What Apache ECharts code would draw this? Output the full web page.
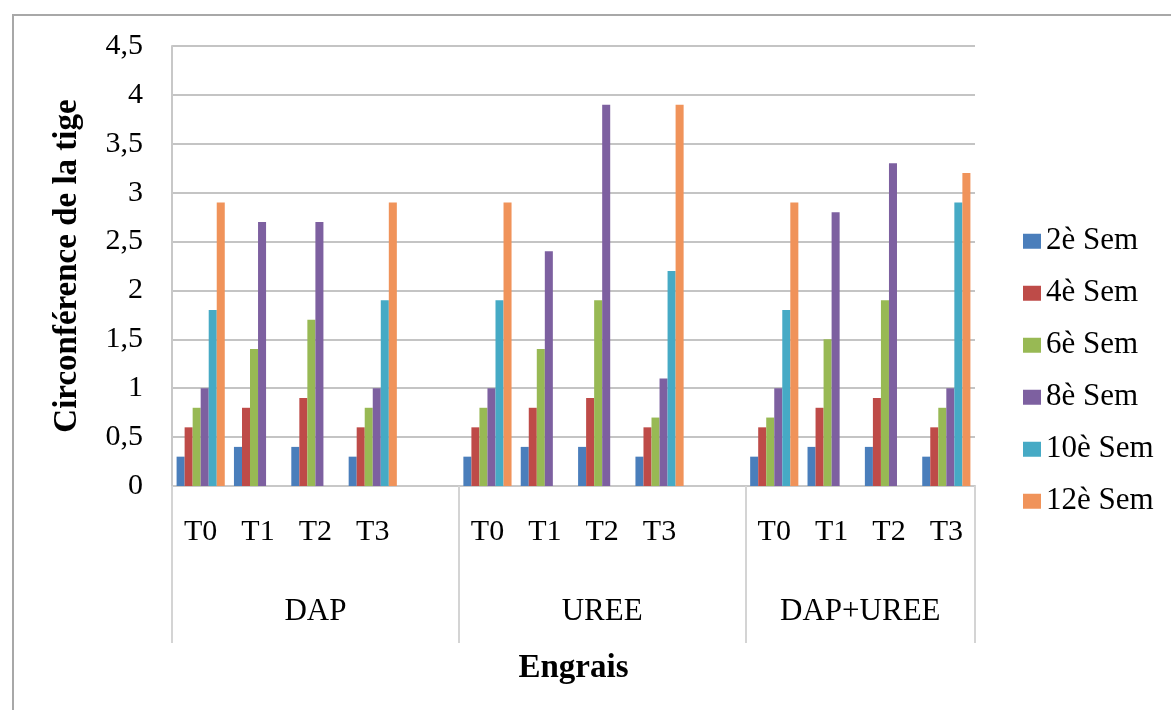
<!DOCTYPE html>
<html>
<head>
<meta charset="utf-8">
<script src="https://cdn.jsdelivr.net/npm/echarts@6/dist/echarts.min.js"></script>
<style>
html,body{margin:0;padding:0;background:#fff;}
#chart{width:1171px;height:710px;}
</style>
</head>
<body>
<div id="chart"></div>
<script>
// Categories (blank entries are the empty slots between fertiliser groups)
const categories = ['T0','T1','T2','T3','','T0','T1','T2','T3','','T0','T1','T2','T3'];
const groupNames = ['DAP','UREE','DAP+UREE'];
const groupCenters = [2.5, 7.5, 12];
const groupBounds = [0, 5, 10, 14];
const seriesNames = ['2è Sem','4è Sem','6è Sem','8è Sem','10è Sem','12è Sem'];

const sem2  = [0.3,0.4,0.4,0.3,null,0.3,0.4,0.4,0.3,null,0.3,0.4,0.4,0.3];
const sem4  = [0.6,0.8,0.9,0.6,null,0.6,0.8,0.9,0.6,null,0.6,0.8,0.9,0.6];
const sem6  = [0.8,1.4,1.7,0.8,null,0.8,1.4,1.9,0.7,null,0.7,1.5,1.9,0.8];
const sem8  = [1.0,2.7,2.7,1.0,null,1.0,2.4,3.9,1.1,null,1.0,2.8,3.3,1.0];
const sem10 = [1.8,null,null,1.9,null,1.9,null,null,2.2,null,1.8,null,null,2.9];
const sem12 = [2.9,null,null,2.9,null,2.9,null,null,3.9,null,2.9,null,null,3.2];

const colors = ['#4A7EBB','#BE4B48','#98B954','#7D60A0','#46AAC5','#F0935A'];
const serif = '"Liberation Serif","DejaVu Serif",serif';
const allData = [sem2, sem4, sem6, sem8, sem10, sem12];

const chart = echarts.init(document.getElementById('chart'));
chart.setOption({
  animation: false,
  backgroundColor: '#fff',
  color: colors,
  textStyle: { fontFamily: serif },
  graphic: [{
    type: 'polyline',
    shape: { points: [[13, 720], [13, 15], [1171, 15]] },
    style: { stroke: '#a8a8a8', lineWidth: 2, fill: null },
    silent: true
  }],
  grid: { left: 172, right: 196, top: 46, bottom: 224, containLabel: false },
  legend: {
    orient: 'vertical',
    left: 1023,
    top: 225,
    padding: 0,
    itemWidth: 18,
    itemHeight: 15,
    itemGap: 19.5,
    icon: 'rect',
    data: seriesNames,
    textStyle: { fontFamily: serif, fontSize: 31, color: '#000', lineHeight: 32.5 }
  },
  xAxis: [{
    type: 'category',
    data: categories,
    axisLine: { show: true, lineStyle: { color: '#c8c8c8', width: 2 } },
    axisTick: { show: false },
    axisLabel: { fontFamily: serif, fontSize: 30, color: '#000', margin: 31, interval: 0 },
    splitLine: { show: false },
    name: 'Engrais',
    nameLocation: 'middle',
    nameGap: 166,
    nameTextStyle: { fontFamily: serif, fontSize: 33, fontWeight: 'bold', color: '#000' }
  }, {
    type: 'value',
    position: 'bottom',
    min: 0,
    max: 14,
    axisLine: { show: false },
    splitLine: { show: false },
    axisTick: {
      show: true,
      customValues: groupBounds,
      length: 157,
      lineStyle: { color: '#d4d4d4', width: 2 }
    },
    axisLabel: {
      show: true,
      customValues: groupCenters,
      margin: 110,
      fontFamily: serif,
      fontSize: 31,
      color: '#000',
      formatter: function (v) {
        const i = groupCenters.indexOf(v);
        return i >= 0 ? groupNames[i] : '';
      }
    }
  }],
  yAxis: {
    type: 'value',
    min: 0,
    max: 4.5,
    interval: 0.5,
    axisLine: { show: true, lineStyle: { color: '#c8c8c8', width: 2 } },
    axisTick: { show: false },
    axisLabel: {
      fontFamily: serif, fontSize: 30, color: '#000', margin: 29,
      formatter: function (v) { return String(v).replace('.', ','); }
    },
    splitLine: { show: true, lineStyle: { color: '#c4c4c4', width: 2 } },
    name: 'Circonférence de la tige',
    nameLocation: 'middle',
    nameGap: 88,
    nameTextStyle: { fontFamily: serif, fontSize: 33, fontWeight: 'bold', color: '#000' }
  },
  series: allData.map(function (d, i) {
    return {
      name: seriesNames[i],
      type: 'bar',
      xAxisIndex: 0,
      data: d,
      barGap: '0%',
      barCategoryGap: '16%',
      itemStyle: { color: colors[i] }
    };
  })
});
</script>
</body>
</html>
